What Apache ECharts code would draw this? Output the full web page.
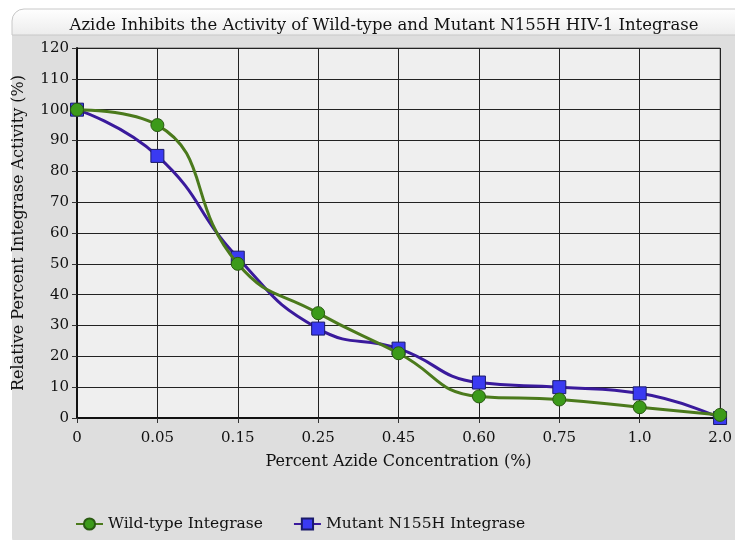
<!DOCTYPE html>
<html><head><meta charset="utf-8">
<script src="https://cdn.jsdelivr.net/npm/echarts@6/dist/echarts.min.js"></script>
<style>html,body{margin:0;padding:0;background:#fff}#c{width:735px;height:540px}</style>
</head><body><div id="c"></div>
<script>
const categories = ['0','0.05','0.15','0.25','0.45','0.60','0.75','1.0','2.0'];
const wildType = [100, 95, 50, 34, 21, 7, 6, 3.5, 1];
const mutant = [100, 85, 52, 29, 22.5, 11.5, 10, 8, 0];
const yTicks = [0, 120, 10];

const FONT = '"DejaVu Serif", "Liberation Serif", serif';
const chart = echarts.init(document.getElementById('c'), null, {renderer: 'canvas'});
chart.setOption({
  animation: false,
  backgroundColor: '#ffffff',
  graphic: [
    {type: 'rect', z: -10, shape: {x: 12, y: 9, width: 740, height: 540, r: [12, 0, 0, 12]},
     style: {fill: '#dedede'}},
    {type: 'rect', z: -9, shape: {x: 12, y: 9, width: 740, height: 26, r: [12, 0, 0, 0]},
     style: {fill: new echarts.graphic.LinearGradient(0, 0, 0, 1, [{offset: 0, color: '#ffffff'}, {offset: 1, color: '#ececec'}]), stroke: '#c8c8c8', lineWidth: 1}}
  ],
  title: {
    text: 'Azide Inhibits the Activity of Wild-type and Mutant N155H HIV-1 Integrase',
    left: 379, top: 12, textAlign: 'center',
    textStyle: {fontFamily: FONT, fontSize: 16.5, fontWeight: 'normal', color: '#111'}
  },
  legend: {
    left: 70, top: 511, itemGap: 30, itemWidth: 27, itemHeight: 14,
    textStyle: {fontFamily: FONT, fontSize: 15.5, color: '#111'},
    data: ['Wild-type Integrase', 'Mutant N155H Integrase']
  },
  grid: {left: 77, right: 10, top: 48, bottom: 122, show: true, backgroundColor: '#efefef', borderColor: '#777', borderWidth: 1},
  xAxis: {
    type: 'category', data: categories, boundaryGap: false,
    name: 'Percent Azide Concentration (%)', nameLocation: 'middle', nameGap: 36,
    nameTextStyle: {fontFamily: FONT, fontSize: 16, color: '#111'},
    axisLine: {lineStyle: {color: '#111', width: 2}},
    axisTick: {show: true, length: 5, lineStyle: {color: '#333'}, alignWithLabel: true},
    axisLabel: {fontFamily: FONT, fontSize: 15, color: '#111', margin: 13, showMaxLabel: true},
    splitLine: {show: true, lineStyle: {color: '#222', width: 1}}
  },
  yAxis: {
    type: 'value', min: yTicks[0], max: yTicks[1], interval: yTicks[2],
    name: 'Relative Percent Integrase Activity (%)', nameLocation: 'middle', nameGap: 50,
    nameTextStyle: {fontFamily: FONT, fontSize: 16, color: '#111'},
    axisLine: {show: true, lineStyle: {color: '#111', width: 2}},
    axisTick: {show: true, length: 5, lineStyle: {color: '#333'}},
    axisLabel: {fontFamily: FONT, fontSize: 15, color: '#111', margin: 8},
    splitLine: {show: true, lineStyle: {color: '#222', width: 1}}
  },
  series: [
    {name: 'Wild-type Integrase', type: 'line', data: wildType, smooth: 0.5, z: 3,
     symbol: 'circle', symbolSize: 13,
     lineStyle: {color: '#4b7a1c', width: 3},
     itemStyle: {color: '#3c9a1a', borderColor: '#2a5a12', borderWidth: 1}},
    {name: 'Mutant N155H Integrase', type: 'line', data: mutant, smooth: 0.5, z: 2,
     symbol: 'rect', symbolSize: 13,
     lineStyle: {color: '#3a1a9c', width: 3},
     itemStyle: {color: '#3a3af2', borderColor: '#1a1a6a', borderWidth: 1}}
  ]
});
</script></body></html>
